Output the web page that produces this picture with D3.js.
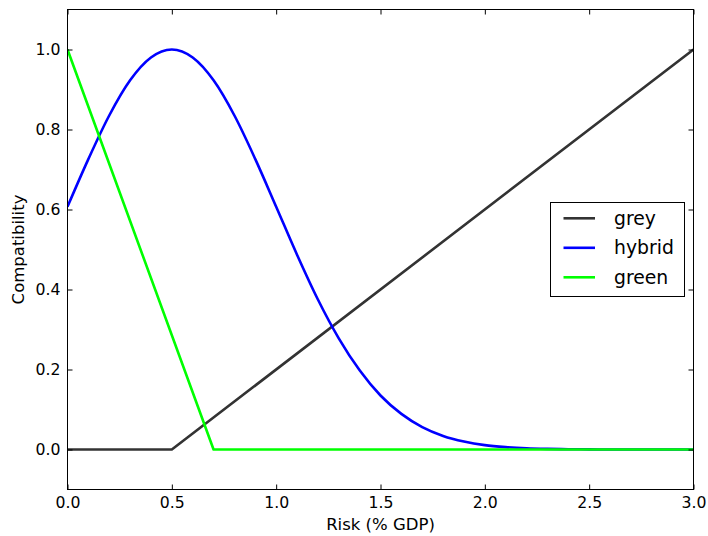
<!DOCTYPE html>
<html>
<head>
<meta charset="utf-8">
<script src="https://cdn.jsdelivr.net/npm/d3@7"></script>
<style>
  html, body { margin: 0; padding: 0; background: #fff; }
  svg { display: block; font-family: "DejaVu Sans", sans-serif; }
</style>
</head>
<body>
<svg id="chart" width="708" height="536"></svg>
<script>
// Risk levels (% GDP) and compatibility of each policy profile
const greyX = [0.0, 0.5, 3.0];
const greyY = [0.0, 0.0, 1.0];

const hybridX = [0.0, 0.1, 0.2, 0.3, 0.4, 0.5, 0.6, 0.7, 0.8, 0.9, 1.0,
                 1.1, 1.2, 1.3, 1.4, 1.5, 1.6, 1.7, 1.8, 1.9, 2.0,
                 2.1, 2.2, 2.3, 2.4, 2.5, 2.6, 2.7, 2.8, 2.9, 3.0];
const hybridY = [0.607, 0.726, 0.835, 0.923, 0.980, 1.000, 0.980, 0.923, 0.835, 0.726, 0.607,
                 0.487, 0.375, 0.278, 0.198, 0.135, 0.089, 0.056, 0.034, 0.020, 0.011,
                 0.006, 0.003, 0.0015, 0.0007, 0.0003, 0.0001, 0.0, 0.0, 0.0, 0.0];

const greenX = [0.0, 0.7, 3.0];
const greenY = [1.0, 0.0, 0.0];

const seriesNames = ["grey", "hybrid", "green"];
const seriesColors = ["#333333", "#0000ff", "#00ff00"];

const xTicks = [0.0, 0.5, 1.0, 1.5, 2.0, 2.5, 3.0];
const yTicks = [0.0, 0.2, 0.4, 0.6, 0.8, 1.0];

const xLabel = "Risk (% GDP)";
const yLabel = "Compatibility";

const svg = d3.select("#chart");
const L = 67.5, R = 693.5, T = 9.5, B = 489.5;

const x = d3.scaleLinear().domain([0, 3]).range([L, R]);
const y = d3.scaleLinear().domain([-0.1, 1.1]).range([B, T]);

const zip = (xs, ys) => xs.map((v, i) => [v, ys[i]]);
const series = [
  { name: seriesNames[0], color: seriesColors[0], pts: zip(greyX, greyY), curve: d3.curveLinear },
  { name: seriesNames[1], color: seriesColors[1], pts: zip(hybridX, hybridY), curve: d3.curveMonotoneX },
  { name: seriesNames[2], color: seriesColors[2], pts: zip(greenX, greenY), curve: d3.curveLinear }
];

const clip = svg.append("defs").append("clipPath").attr("id", "plotclip")
  .append("rect").attr("x", L).attr("y", T).attr("width", R - L).attr("height", B - T);

const plot = svg.append("g").attr("clip-path", "url(#plotclip)");
series.forEach(s => {
  const line = d3.line().x(d => x(d[0])).y(d => y(d[1])).curve(s.curve);
  plot.append("path")
    .attr("d", line(s.pts))
    .attr("fill", "none")
    .attr("stroke", s.color)
    .attr("stroke-width", 2.6)
    .attr("stroke-linejoin", "round");
});

// Inward ticks on all four sides
const tickLen = 5;
const axisStyle = g => {
  g.select(".domain").remove();
  g.selectAll(".tick line").attr("stroke", "#000").attr("stroke-width", 1);
  g.selectAll(".tick text").attr("fill", "#000").attr("font-size", 15.7)
    .attr("font-family", "DejaVu Sans, sans-serif");
};

svg.append("g").attr("transform", `translate(0,${B})`)
  .call(d3.axisBottom(x).tickValues(xTicks).tickFormat(d3.format(".1f"))
    .tickSizeInner(-tickLen).tickSizeOuter(0).tickPadding(7))
  .call(axisStyle);
svg.append("g").attr("transform", `translate(0,${T})`)
  .call(d3.axisTop(x).tickValues(xTicks).tickFormat("")
    .tickSizeInner(-tickLen).tickSizeOuter(0))
  .call(axisStyle);
svg.append("g").attr("transform", `translate(${L},0)`)
  .call(d3.axisLeft(y).tickValues(yTicks).tickFormat(d3.format(".1f"))
    .tickSizeInner(-tickLen).tickSizeOuter(0).tickPadding(7))
  .call(axisStyle);
svg.append("g").attr("transform", `translate(${R},0)`)
  .call(d3.axisRight(y).tickValues(yTicks).tickFormat("")
    .tickSizeInner(-tickLen).tickSizeOuter(0))
  .call(axisStyle);

// Frame
svg.append("rect").attr("x", L).attr("y", T).attr("width", R - L).attr("height", B - T)
  .attr("fill", "none").attr("stroke", "#000").attr("stroke-width", 1);

// Axis titles
svg.append("text").attr("x", (L + R) / 2).attr("y", 530)
  .attr("text-anchor", "middle").attr("font-size", 16.5).attr("fill", "#000").text(xLabel);
svg.append("text").attr("transform", `translate(24,${(T + B) / 2}) rotate(-90)`)
  .attr("text-anchor", "middle").attr("font-size", 16.5).attr("fill", "#000").text(yLabel);

// Legend
const lg = svg.append("g");
lg.append("rect").attr("x", 550.5).attr("y", 202.5).attr("width", 134).attr("height", 94)
  .attr("fill", "#fff").attr("stroke", "#000").attr("stroke-width", 1);
const rowY = d3.scalePoint().domain(seriesNames).range([218.3, 277.3]);
series.forEach(s => {
  const yy = rowY(s.name);
  lg.append("line").attr("x1", 563.5).attr("x2", 595).attr("y1", yy).attr("y2", yy)
    .attr("stroke", s.color).attr("stroke-width", 2.6);
  lg.append("text").attr("x", 614).attr("y", yy + 6.5)
    .attr("font-size", 18.8).attr("fill", "#000").text(s.name);
});
</script>
</body>
</html>
